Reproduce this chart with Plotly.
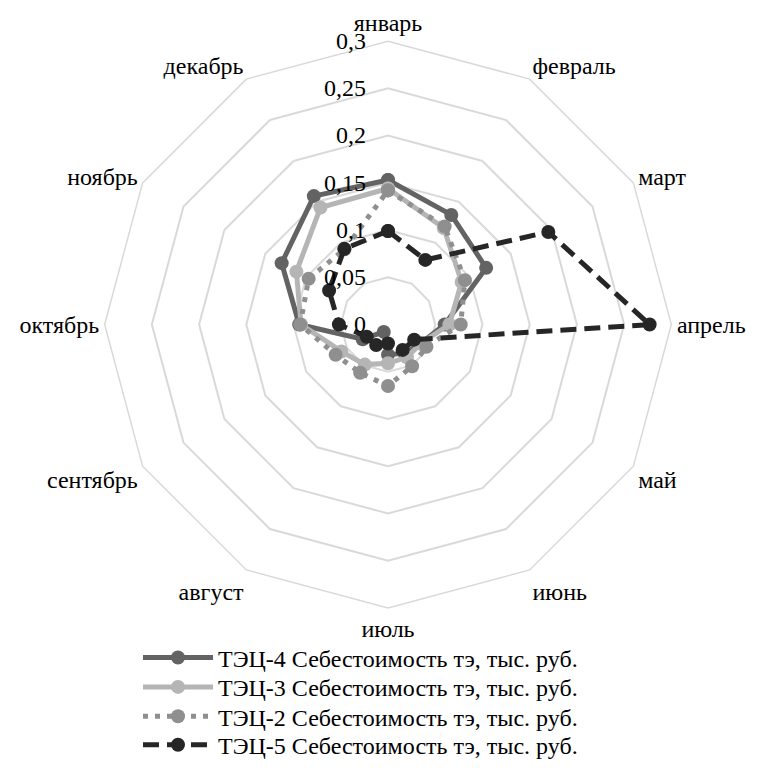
import plotly.graph_objects as go

# Months around the radar (clockwise from the top)
months = ["январь", "февраль", "март", "апрель", "май", "июнь",
          "июль", "август", "сентябрь", "октябрь", "ноябрь", "декабрь"]

# Cost of heat energy by plant, thousand roubles
tec4 = [0.153, 0.134, 0.120, 0.060, 0.040, 0.035, 0.032, 0.009, 0.031, 0.094, 0.130, 0.157]
tec3 = [0.144, 0.118, 0.090, 0.065, 0.040, 0.040, 0.041, 0.049, 0.057, 0.092, 0.112, 0.143]
tec2 = [0.142, 0.120, 0.094, 0.077, 0.047, 0.051, 0.065, 0.059, 0.064, 0.093, 0.097, 0.092]
tec5 = [0.099, 0.079, 0.196, 0.277, 0.032, 0.031, 0.020, 0.025, 0.026, 0.052, 0.072, 0.0925]

series_names = [
    "ТЭЦ-4 Себестоимость тэ, тыс. руб.",
    "ТЭЦ-3 Себестоимость тэ, тыс. руб.",
    "ТЭЦ-2 Себестоимость тэ, тыс. руб.",
    "ТЭЦ-5 Себестоимость тэ, тыс. руб.",
]
series_values = [tec4, tec3, tec2, tec5]
series_colors = ["#636363", "#b5b5b5", "#8f8f8f", "#262626"]
series_dash = ["solid", "solid", "5px,7px", "16px,8px"]

FONT = "Liberation Serif"
W, H = 761, 768

# one legend per series so the rows sit at a tight, even pitch
legend_ids = ["legend", "legend2", "legend3", "legend4"]
legend_rows_px = [671, 701, 731, 760]

fig = go.Figure()
for name, vals, color, dash, lid in zip(series_names, series_values, series_colors,
                                         series_dash, legend_ids):
    # close the polygon back to January
    fig.add_trace(go.Scatterpolar(
        r=vals + vals[:1],
        theta=months + months[:1],
        mode="lines+markers",
        name=name,
        legend=lid,
        showlegend=True,
        line=dict(color=color, width=5, dash=dash),
        marker=dict(color=color, size=14, symbol="circle"),
    ))

legend_layout = {}
for lid, row in zip(legend_ids, legend_rows_px):
    legend_layout[lid] = dict(
        x=138 / W,
        xanchor="left",
        y=1 - row / H,
        yanchor="middle",
        font=dict(family=FONT, size=24, color="#000000"),
        itemwidth=70,
        bgcolor="rgba(0,0,0,0)",
    )

fig.update_layout(
    width=W,
    height=H,
    margin=dict(l=0, r=0, t=0, b=0),
    paper_bgcolor="white",
    separators=", ",
    showlegend=True,
    font=dict(family=FONT, color="#000000"),
    polar=dict(
        domain=dict(x=[99 / W, 677 / W], y=[148 / H, 726 / H]),
        bgcolor="white",
        gridshape="linear",
        radialaxis=dict(
            range=[0, 0.3],
            tick0=0,
            dtick=0.05,
            angle=90,
            tickangle=90,
            side="counterclockwise",
            ticksuffix="\u00a0\u00a0\u00a0",
            showline=False,
            ticks="",
            gridcolor="#d9d9d9",
            gridwidth=1.5,
            tickfont=dict(family=FONT, size=24, color="#000000"),
        ),
        angularaxis=dict(
            rotation=90,
            direction="clockwise",
            showgrid=False,
            showline=True,
            linecolor="#d9d9d9",
            linewidth=1.5,
            ticks="",
            tickfont=dict(family=FONT, size=24, color="#000000"),
        ),
    ),
    **legend_layout,
)

fig.write_html("out.html")
